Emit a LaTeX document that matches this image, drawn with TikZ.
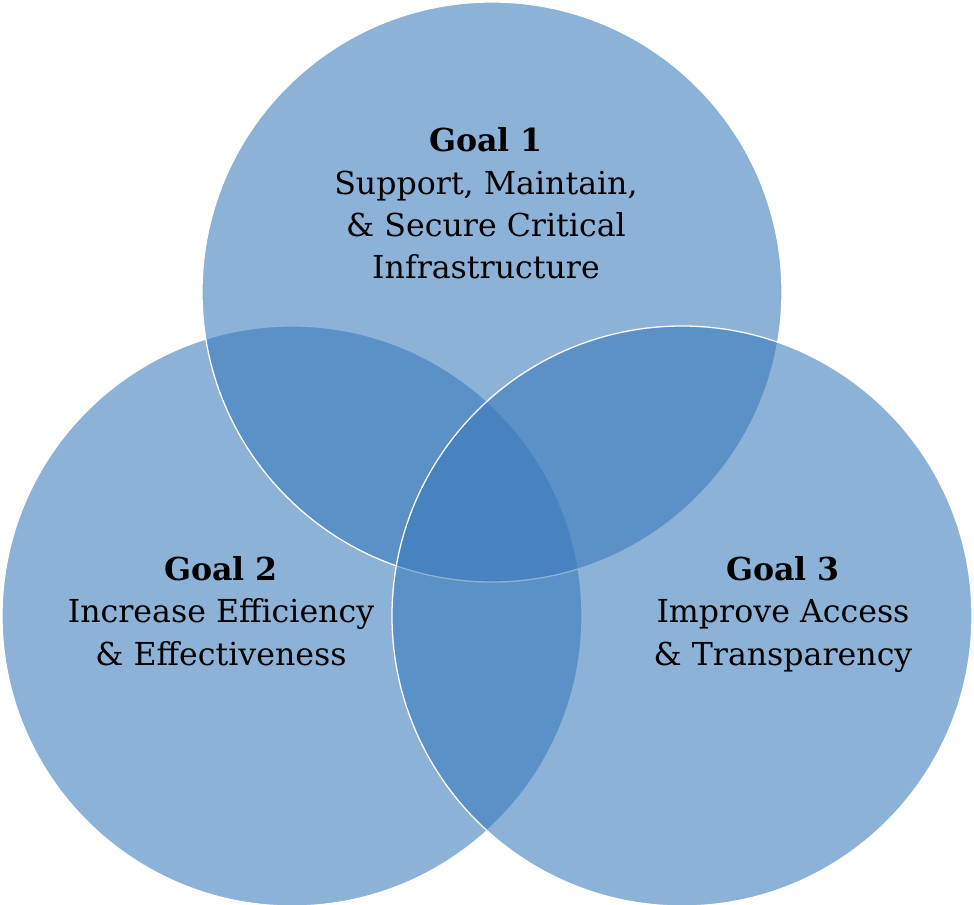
\documentclass[tikz,border=0pt]{standalone}
\usepackage{fontspec}
\setmainfont{DejaVu Serif}
\usepackage{tikz}
\definecolor{goalcolor}{RGB}{55,120,187}

\begin{document}
\begin{tikzpicture}[
    goal/.style={circle, draw=white, line width=0.9pt, fill=goalcolor, fill opacity=0.57, minimum size=14.5cm, inner sep=0pt},
    goaltext/.style={anchor=north, align=center, inner sep=0pt, font=\fontsize{22.5}{30}\selectfont}
]
    \useasboundingbox (0,0) rectangle (24.35,-22.625);

    % Circles (left, top, right)
    \node[goal] (c2) at (7.3,-15.4) {};
    \node[goal] (c1) at (12.3,-7.3) {};
    \node[goal] (c3) at (17.05,-15.4) {};

    % Goal texts
    \node[goaltext] (t1) at (12.15,-3.19) {\textbf{Goal 1}\\Support, Maintain,\\\& Secure Critical\\Infrastructure};
    \node[goaltext] (t2) at (5.525,-13.91) {\textbf{Goal 2}\\Increase Efficiency\\\& Effectiveness};
    \node[goaltext] (t3) at (19.575,-13.91) {\textbf{Goal 3}\\Improve Access\\\& Transparency};
\end{tikzpicture}
\end{document}
